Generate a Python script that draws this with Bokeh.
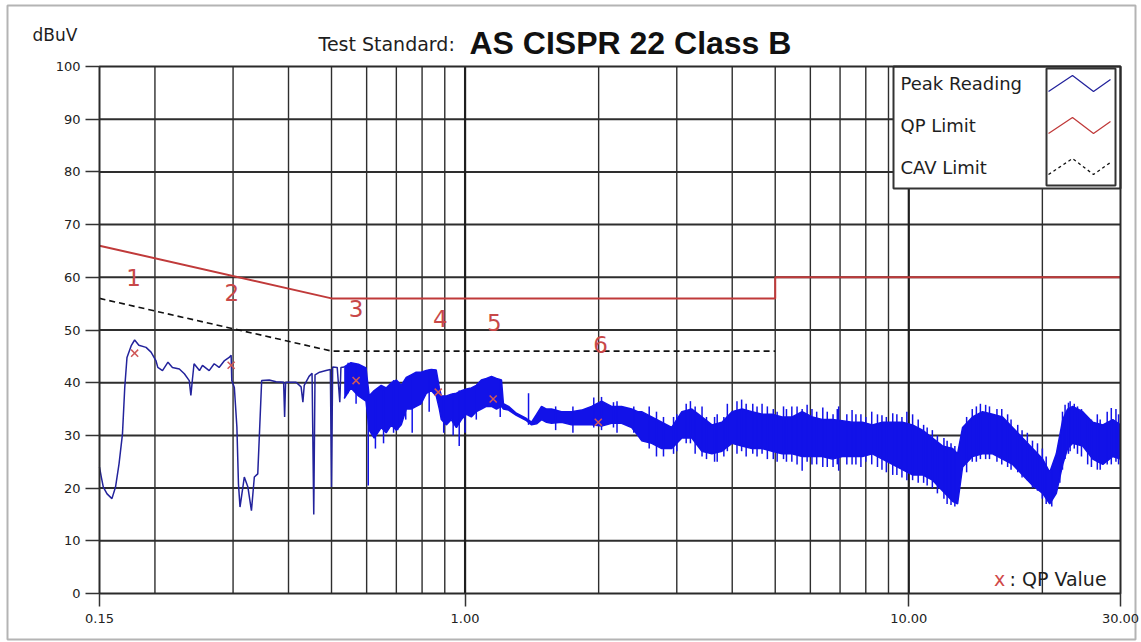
import math
from bokeh.plotting import figure
from bokeh.models import Range1d, FixedTicker, PrintfTickFormatter
from bokeh.embed import file_html
from bokeh.resources import INLINE
from bokeh.core.properties import value

# ---------------- data ----------------
qp_limit_f = [0.15, 0.5, 5.0, 5.0, 30.0]
qp_limit_v = [66.0, 56.0, 56.0, 60.0, 60.0]
cav_limit_f = [0.15, 0.5, 5.0]
cav_limit_v = [56.0, 46.0, 46.0]

qp_ids = ["1", "2", "3", "4", "5", "6"]
qp_f = [0.180, 0.297, 0.568, 0.870, 1.157, 1.996]
qp_v = [45.6, 43.3, 40.4, 38.2, 36.9, 32.5]
qp_label_f = [0.179, 0.298, 0.568, 0.879, 1.164, 2.02]
qp_label_v = [59.9, 57.1, 54.1, 52.1, 51.4, 47.2]

# peak reading: single-trace part (low frequencies)
peak_line_f = [0.150, 0.1515, 0.153, 0.156, 0.160, 0.163, 0.166, 0.169, 0.171, 0.173,
               0.177, 0.180, 0.184, 0.191, 0.196, 0.201, 0.203, 0.208, 0.214, 0.219,
               0.227, 0.233, 0.239, 0.241, 0.243, 0.245, 0.252, 0.256, 0.265, 0.272,
               0.279, 0.287, 0.294, 0.297, 0.298, 0.302, 0.306, 0.3085, 0.311, 0.318,
               0.324, 0.330, 0.335, 0.341, 0.344, 0.348, 0.362, 0.375, 0.390, 0.392,
               0.394, 0.416, 0.427, 0.431, 0.434, 0.445, 0.452, 0.456, 0.459, 0.470,
               0.486, 0.497, 0.500, 0.503, 0.515, 0.522, 0.525, 0.534]
peak_line_v = [24.0, 22.0, 20.2, 18.9, 18.0, 20.2, 24.6, 30.3, 39.1, 44.8,
               47.1, 48.1, 47.1, 46.7, 45.8, 44.2, 42.9, 42.3, 43.9, 42.9,
               42.6, 41.7, 40.4, 37.6, 40.7, 43.6, 42.3, 43.3, 42.3, 43.6,
               42.9, 44.2, 44.8, 45.2, 40.4, 39.1, 31.6, 20.8, 16.4, 22.1,
               20.2, 15.7, 22.1, 22.7, 30.3, 40.4, 40.5, 40.2, 40.1, 33.5,
               40.1, 40.1, 39.2, 36.3, 39.5, 41.2, 41.8, 15.0, 41.5, 42.0,
               42.3, 42.5, 20.2, 43.0, 42.9, 36.3, 42.9, 43.0]

# peak reading: dense part, envelope of the trace
band_f = [0.534, 0.553, 0.575, 0.598, 0.608, 0.624, 0.647, 0.664, 0.682, 0.700,
          0.718, 0.737, 0.756, 0.776, 0.796, 0.818, 0.839, 0.861, 0.875, 0.884,
          0.908, 0.931, 0.956, 0.981, 1.007, 1.033, 1.06, 1.088, 1.117, 1.147,
          1.177, 1.208, 1.22, 1.253, 1.305, 1.375, 1.412, 1.449, 1.487, 1.526,
          1.566, 1.649, 1.737, 1.831, 1.928, 2.031, 2.139, 2.253, 2.374, 2.45,
          2.5, 2.634, 2.775, 2.923, 3.08, 3.244, 3.417, 3.6, 3.792, 3.995,
          4.208, 4.433, 4.67, 4.919, 5.182, 5.459, 5.75, 6.058, 6.381, 6.722,
          7.081, 7.459, 7.858, 8.277, 8.719, 9.185, 9.675, 10.19, 10.74, 11.31,
          11.91, 12.55, 12.88, 13.22, 13.92, 14.66, 15.45, 16.27, 17.14, 18.05,
          19.02, 20.03, 20.78, 21.5, 22.23, 22.8, 23.41, 24.66, 25.98, 27.37,
          28.83, 30.0]
band_hi = [43.0, 43.8, 43.5, 42.8, 37.5, 38.5, 39.5, 39.0, 40.0, 40.5,
           39.5, 41.0, 41.5, 42.0, 42.0, 42.3, 42.5, 42.4, 39.0, 37.5,
           37.5, 37.8, 38.0, 38.5, 38.8, 39.0, 39.5, 40.5, 40.8, 41.2,
           40.8, 40.5, 36.0, 35.5, 34.2, 33.2, 32.5, 34.0, 35.5, 35.0,
           35.0, 34.5, 34.5, 34.8, 35.5, 36.5, 35.5, 35.5, 35.0, 34.5,
           34.5, 33.5, 32.5, 31.5, 34.5, 35.0, 33.5, 32.0, 32.5, 34.5,
           35.0, 34.5, 34.0, 34.0, 33.5, 33.5, 34.5, 33.5, 33.0, 33.0,
           32.8, 32.5, 32.5, 32.0, 32.5, 32.5, 32.5, 32.0, 31.0, 29.5,
           28.0, 27.5, 26.5, 31.5, 33.5, 34.5, 34.0, 33.5, 31.5, 29.5,
           27.5, 25.5, 23.0, 26.5, 33.0, 35.0, 35.5, 34.5, 32.5, 32.0,
           33.0, 32.0]
band_lo = [37.0, 39.0, 37.5, 36.5, 31.0, 29.5, 31.5, 30.5, 32.0, 31.0,
           32.0, 35.0, 35.0, 35.5, 36.0, 38.0, 38.5, 37.5, 35.0, 33.0,
           32.0, 33.0, 31.5, 33.0, 34.0, 33.5, 34.5, 35.0, 35.5, 35.5,
           35.0, 35.5, 35.0, 34.8, 33.8, 32.8, 32.0, 32.2, 33.0, 32.5,
           32.3, 32.5, 32.0, 32.0, 32.0, 31.8, 32.3, 32.3, 31.5, 30.0,
           29.0, 28.5, 27.5, 27.5, 29.5, 29.5, 27.0, 26.5, 27.0, 28.5,
           28.0, 27.5, 27.5, 27.0, 26.5, 26.5, 26.0, 26.0, 26.0, 25.5,
           26.0, 26.0, 26.0, 26.5, 25.5, 24.5, 23.5, 22.5, 22.5, 21.5,
           19.5, 17.5, 17.0, 24.0, 26.0, 26.5, 26.5, 25.5, 24.5, 22.5,
           20.5, 19.0, 17.0, 19.0, 24.5, 27.5, 28.5, 28.0, 25.5, 24.5,
           26.0, 25.5]

# peak reading: individual spikes (frequency, top, bottom)
spike_f = [0.545, 0.568, 0.605, 0.628, 0.655, 0.69, 0.705, 0.735, 0.76, 0.83,
           0.895, 0.94, 0.97, 1.0, 1.06, 1.2, 1.39, 1.60, 1.75, 1.95,
           2.03, 2.2, 2.6, 2.8, 3.0, 3.15, 3.3, 3.5, 3.7, 3.9,
           4.1, 4.3, 4.55, 4.8, 5.05, 5.3, 5.6, 5.9, 6.2, 6.55,
           6.9, 7.25, 7.6, 8.0, 8.5, 8.9, 9.4, 9.9, 10.5, 11.0,
           11.6, 12.2, 12.7, 13.5, 14.2, 14.9, 15.8, 16.7, 17.6, 18.5,
           19.5, 20.4, 21.0, 21.9, 22.5, 23.1, 24.0, 25.3, 26.6, 28.0,
           29.3,
           2.16, 2.4, 2.7, 2.95, 3.22, 3.42, 3.65, 3.83, 4.2, 4.45,
           4.67, 4.95, 5.22, 5.45, 5.75, 6.05, 6.4, 6.75, 6.95, 7.45,
           7.8, 8.25, 8.7, 9.2, 9.65, 10.2, 10.8, 11.3, 12.0, 12.45,
           13.9, 14.5, 15.2, 16.2, 17.0, 18.0, 19.0, 20.0, 22.2, 22.9,
           23.6, 24.5, 25.8, 27.0, 28.6, 29.7]
spike_hi = [43.8, 43.5, 38.0, 37.5, 38.5, 40.5, 40.0, 40.5, 41.5, 42.5,
            37.5, 38.0, 38.5, 38.5, 39.5, 40.5, 38.0, 35.5, 35.5, 37.2,
            37.3, 36.5, 35.5, 33.5, 34.0, 36.0, 35.5, 33.5, 34.0, 36.0,
            36.5, 36.0, 35.5, 35.5, 34.5, 35.0, 35.5, 35.8, 34.5, 34.5,
            35.0, 34.0, 34.0, 33.5, 34.0, 33.5, 34.0, 34.5, 33.0, 31.5,
            30.0, 29.0, 28.0, 33.5, 35.5, 35.8, 35.0, 34.0, 32.0, 30.5,
            28.5, 26.0, 24.0, 30.0, 35.8, 36.5, 35.5, 33.5, 34.0, 34.5,
            35.0,
            36.3, 35.5, 34.5, 33.5, 36.5, 35.5, 33.5, 33.5, 36.8, 36.0,
            36.0, 35.0, 35.5, 35.5, 35.0, 35.0, 35.3, 34.0, 35.5, 34.8,
            34.0, 34.5, 33.8, 34.2, 33.5, 34.0, 32.0, 31.0, 29.5, 28.5,
            35.0, 36.0, 35.5, 35.0, 33.0, 31.0, 29.0, 27.5, 34.5, 36.2,
            36.0, 35.0, 33.0, 33.0, 35.2, 34.0]
spike_lo = [38.0, 36.0, 20.5, 27.5, 28.5, 30.5, 31.0, 33.0, 30.5, 34.5,
            30.5, 30.0, 28.0, 30.5, 33.0, 33.5, 32.0, 31.0, 30.5, 31.5,
            31.0, 30.5, 27.5, 26.0, 27.0, 28.5, 26.5, 25.5, 25.0, 27.0,
            26.5, 26.0, 26.0, 25.5, 25.0, 25.0, 24.5, 25.0, 24.5, 24.0,
            24.5, 24.5, 24.5, 25.0, 24.0, 23.0, 22.5, 21.5, 21.0, 20.5,
            19.0, 17.0, 16.5, 23.0, 25.0, 25.5, 25.0, 24.0, 23.0, 21.5,
            19.5, 17.0, 16.5, 21.0, 25.5, 27.0, 26.5, 24.5, 23.5, 24.5,
            25.0,
            31.5, 30.5, 26.0, 26.5, 28.5, 26.0, 25.0, 26.0, 27.0, 26.5,
            26.5, 25.5, 25.5, 25.0, 23.3, 24.5, 24.0, 24.0, 23.3, 24.5,
            24.0, 24.5, 23.5, 22.5, 22.0, 21.5, 21.0, 20.0, 18.0, 16.8,
            25.0, 25.5, 25.5, 24.5, 23.5, 22.0, 20.0, 18.0, 23.5, 26.5,
            27.5, 26.0, 24.0, 23.5, 24.5, 24.5]

x_tick_values = [0.15, 1.0, 10.0, 30.0]
x_grid_minor = [0.2, 0.3, 0.4, 0.5, 0.6, 0.7, 0.8, 0.9, 2, 3, 4, 5, 6, 7, 8, 9, 20]
x_grid_major = [1.0, 10.0]
y_tick_values = [0, 10, 20, 30, 40, 50, 60, 70, 80, 90, 100]
y_grid_values = [10, 20, 30, 40, 50, 60, 70, 80, 90]
legend_labels = ["Peak Reading", "QP Limit", "CAV Limit"]
title_prefix = "Test Standard:"
title_main = "AS CISPR 22 Class B"
y_unit = "dBuV"
note_mark = "x"
note_text = ": QP Value"

# ---------------- layout ----------------
W, H = 1141, 642
PL, PT = 99, 66          # plot box left / top on the canvas (px)
PW, PH = 1021, 527       # plot box size (px)
XMIN, XMAX = 0.15, 30.0
YMIN, YMAX = 0.0, 100.0
LOG0 = math.log10(XMIN)
LOGSPAN = math.log10(XMAX / XMIN)


def X(px):
    """pixel offset from the plot box's left edge -> data x"""
    return 10 ** (LOG0 + px / PW * LOGSPAN)


def Y(py):
    """pixel offset from the plot box's top edge -> data y"""
    return YMAX - py / PH * (YMAX - YMIN)


GRID = "#2e2e2e"
RED = "#c03a3a"
LABEL_RED = "#c84848"
BAND = "#1212e8"
THIN = "#23239c"
FONT = "DejaVu Sans"

# the frame covers the whole canvas; the plot box is drawn inside it
p = figure(width=W, height=H, x_axis_type="log",
           x_range=Range1d(X(-PL), X(W - PL)), y_range=Range1d(Y(H - PT), Y(-PT)),
           output_backend="svg", toolbar_location=None,
           min_border=0, min_border_left=0, min_border_right=0,
           min_border_top=0, min_border_bottom=0,
           background_fill_color="white", border_fill_color="white",
           outline_line_color=None)
p.xgrid.visible = False
p.ygrid.visible = False

# outer light frame of the picture
p.quad(left=[X(7 - PL)], right=[X(1135 - PL)], top=[Y(5 - PT)], bottom=[Y(639 - PT)],
       fill_color=None, line_color="#b4b4b4", line_width=2)

# axes, pinned to the plot box edges
p.xaxis.fixed_location = YMIN
p.yaxis.fixed_location = XMIN
p.xaxis.bounds = (XMIN, XMAX)
p.yaxis.bounds = (YMIN, YMAX)
p.xaxis.ticker = FixedTicker(ticks=x_tick_values)
p.xaxis.formatter = PrintfTickFormatter(format="%.2f")
p.yaxis.ticker = FixedTicker(ticks=y_tick_values)
for ax in (p.xaxis, p.yaxis):
    ax.axis_line_color = None
    ax.major_tick_in = 0
    ax.minor_tick_line_color = None
    ax.major_tick_line_color = "#333333"
    ax.major_tick_line_width = 1.5
    ax.major_label_text_font = FONT
    ax.major_label_text_font_size = "13px"
    ax.major_label_text_color = "#222222"
p.xaxis.major_tick_out = 13
p.xaxis.major_label_standoff = 7
p.yaxis.major_tick_out = 14
p.yaxis.major_label_standoff = 5

# grid inside the plot box
p.segment(x0=[XMIN] * len(y_grid_values), y0=y_grid_values,
          x1=[XMAX] * len(y_grid_values), y1=y_grid_values,
          line_color=GRID, line_width=2)
p.segment(x0=x_grid_minor, y0=[YMIN] * len(x_grid_minor),
          x1=x_grid_minor, y1=[YMAX] * len(x_grid_minor),
          line_color=GRID, line_width=1.4)
p.segment(x0=x_grid_major, y0=[YMIN] * len(x_grid_major),
          x1=x_grid_major, y1=[YMAX] * len(x_grid_major),
          line_color="#1e1e1e", line_width=2.2)

# limits
p.line(qp_limit_f, qp_limit_v, line_color=RED, line_width=2)
p.line(cav_limit_f, cav_limit_v, line_color="#111111", line_width=1.6, line_dash="6 4")

# peak reading
p.line(peak_line_f, peak_line_v, line_color=THIN, line_width=1.5)
p.varea(x=band_f, y1=band_lo, y2=band_hi, fill_color=BAND)
p.line(band_f, band_hi, line_color=BAND, line_width=1.5)
p.line(band_f, band_lo, line_color=BAND, line_width=1.5)
p.segment(x0=spike_f, y0=spike_lo, x1=spike_f, y1=spike_hi,
          line_color=BAND, line_width=1.5)

# QP values
p.scatter(qp_f, qp_v, marker="x", size=10, line_color="#d05858", line_width=1.5)
p.text(qp_label_f, qp_label_v, text=qp_ids, text_color=LABEL_RED,
       text_font=value(FONT), text_font_size="23px",
       text_align="center", text_baseline="middle")

# legend (text left, sample lines boxed at the right, as in the reference)
p.quad(left=[X(794)], right=[X(PW)], top=[Y(0)], bottom=[Y(122)],
       fill_color="white", line_color="#333333", line_width=2)
p.quad(left=[X(947)], right=[X(1016)], top=[Y(2)], bottom=[Y(119)],
       fill_color=None, line_color="#333333", line_width=2)
row_top = [9, 51, 92]
zig_dx = [0, 24, 45, 62]
zig_dy = [16, 0, 16, 4]
row_styles = [dict(line_color=THIN, line_width=1.3),
              dict(line_color=RED, line_width=1.3),
              dict(line_color="#111111", line_width=1.3, line_dash="3 3")]
for t, st in zip(row_top, row_styles):
    p.line([X(949 + d) for d in zig_dx], [Y(t + d) for d in zig_dy], **st)
p.text([X(801)] * 3, [Y(17), Y(59), Y(101)], text=legend_labels,
       text_color="#1e1e1e", text_font=value(FONT), text_font_size="18px",
       text_align="left", text_baseline="middle")

# plot box outline
p.quad(left=[XMIN], right=[XMAX], top=[YMAX], bottom=[YMIN],
       fill_color=None, line_color="#2a2a2a", line_width=2)

# note at bottom right
p.text([X(900)], [Y(512)], text=[note_mark], text_color="#d04848",
       text_font=value(FONT), text_font_size="19px",
       text_align="center", text_baseline="middle")
p.text([X(910)], [Y(512)], text=[note_text], text_color="#1e1e1e",
       text_font=value(FONT), text_font_size="19px",
       text_align="left", text_baseline="middle")

# titles / unit
p.text([X(219)], [Y(-23)], text=[title_prefix], text_color="#1e1e1e",
       text_font=value(FONT), text_font_size="19px",
       text_align="left", text_baseline="middle")
p.text([X(370)], [Y(-24)], text=[title_main], text_color="#111111",
       text_font=value("Liberation Sans"), text_font_style="bold",
       text_font_size="32px", text_align="left", text_baseline="middle")
p.text([X(-67)], [Y(-32)], text=[y_unit], text_color="#1e1e1e",
       text_font=value(FONT), text_font_size="17px",
       text_align="left", text_baseline="middle")

open("out.html", "w").write(file_html(p, INLINE))
